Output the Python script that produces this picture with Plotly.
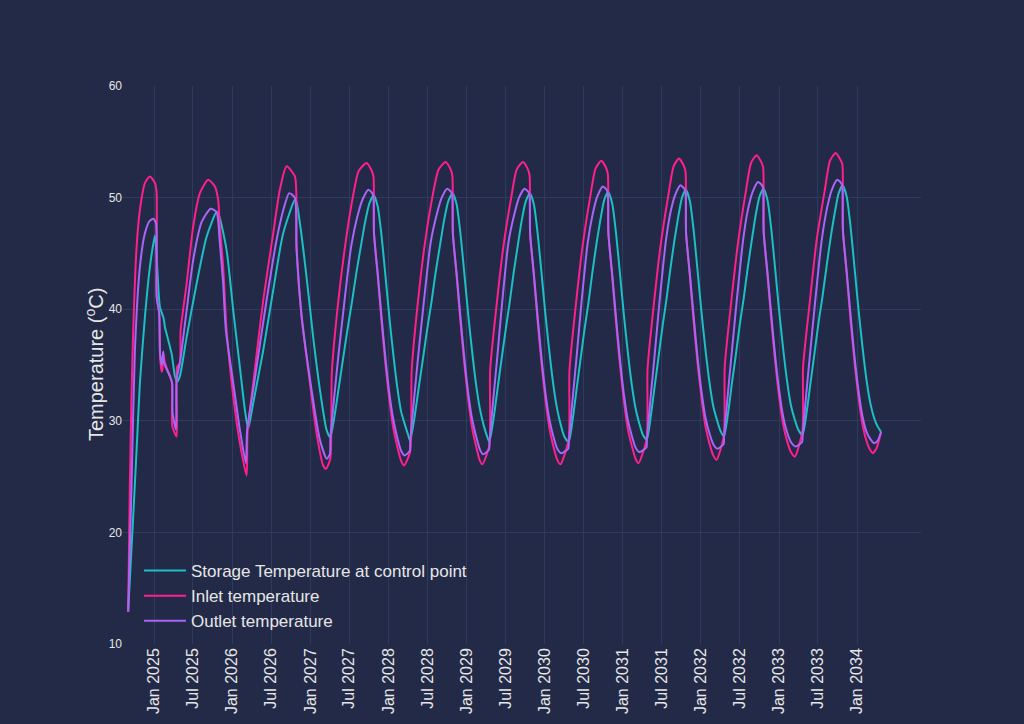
import plotly.graph_objects as go
import pandas as pd

# ---- data (decimal years, degrees C) ----
storage_t = [2024.667, 2024.731, 2024.775, 2024.817, 2024.881, 2024.945, 2025.009, 2025.038, 2025.073, 2025.12,
             2025.137, 2025.223, 2025.265, 2025.294, 2025.329, 2025.415, 2025.543, 2025.671, 2025.799, 2025.83,
             2025.927, 2026.012, 2026.097, 2026.161, 2026.204, 2026.268, 2026.396, 2026.524, 2026.652, 2026.81,
             2026.866, 2026.951, 2027.036, 2027.122, 2027.207, 2027.255,
             2027.311, 2027.367, 2027.422, 2027.478, 2027.534, 2027.59, 2027.646, 2027.701, 2027.757, 2027.813,
             2027.863, 2027.913, 2027.963, 2028.013, 2028.063, 2028.113, 2028.163, 2028.213, 2028.253, 2028.277,
             2028.331, 2028.386, 2028.44, 2028.495, 2028.549, 2028.603, 2028.658, 2028.712, 2028.766, 2028.821,
             2028.871, 2028.921, 2028.971, 2029.021, 2029.071, 2029.121, 2029.171, 2029.221, 2029.261, 2029.29,
             2029.342, 2029.394, 2029.446, 2029.498, 2029.55, 2029.602, 2029.654, 2029.706, 2029.758, 2029.81,
             2029.86, 2029.91, 2029.96, 2030.01, 2030.06, 2030.11, 2030.16, 2030.21, 2030.25, 2030.306,
             2030.357, 2030.407, 2030.458, 2030.509, 2030.56, 2030.61, 2030.661, 2030.712, 2030.762, 2030.813,
             2030.863, 2030.913, 2030.963, 2031.013, 2031.063, 2031.113, 2031.163, 2031.213, 2031.253, 2031.306,
             2031.356, 2031.406, 2031.457, 2031.507, 2031.557, 2031.607, 2031.657, 2031.708, 2031.758, 2031.808,
             2031.858, 2031.908, 2031.958, 2032.008, 2032.058, 2032.108, 2032.158, 2032.208, 2032.25, 2032.294,
             2032.345, 2032.395, 2032.446, 2032.496, 2032.547, 2032.598, 2032.648, 2032.699, 2032.749, 2032.80,
             2032.85, 2032.90, 2032.95, 2033.00, 2033.05, 2033.10, 2033.15, 2033.20, 2033.245, 2033.298,
             2033.35, 2033.401, 2033.453, 2033.504, 2033.556, 2033.608, 2033.659, 2033.711, 2033.762, 2033.814,
             2033.864, 2033.914, 2033.964, 2034.014, 2034.064, 2034.114, 2034.164, 2034.214, 2034.26, 2034.305]
storage_v = [12.9, 21.4, 27.4, 33.4, 39.3, 43.8, 46.6, 43.8, 40.2, 39.2,
             38.4, 36.0, 34.0, 33.5, 34.0, 37.5, 42.3, 46.5, 48.7, 48.4,
             45.3, 39.9, 34.8, 31.0, 29.3, 31.6, 36.3, 41.7, 46.8, 49.9,
             47.7, 42.9, 37.5, 32.8, 29.2, 28.5,
             30.5, 33.1, 35.7, 38.3, 40.7, 43.3, 45.6, 47.8, 49.5, 50.2,
             49.2, 46.5, 42.9, 39.2, 35.9, 33.0, 30.8, 29.6, 28.7, 28.2,
             30.2, 32.9, 35.5, 38.2, 40.6, 43.3, 45.7, 48.0, 49.7, 50.4,
             49.4, 46.7, 43.1, 39.4, 36.1, 33.2, 31.0, 29.5, 28.6, 28.1,
             30.1, 32.8, 35.5, 38.1, 40.6, 43.3, 45.7, 48.0, 49.7, 50.4,
             49.4, 46.7, 43.1, 39.4, 36.1, 33.2, 31.0, 29.5, 28.6, 28.1,
             30.1, 32.8, 35.5, 38.2, 40.6, 43.3, 45.8, 48.0, 49.8, 50.5,
             49.5, 46.8, 43.2, 39.5, 36.2, 33.3, 31.1, 29.7, 28.8, 28.3,
             30.3, 33.0, 35.7, 38.4, 40.8, 43.5, 46.0, 48.2, 50.0, 50.7,
             49.7, 47.0, 43.4, 39.7, 36.4, 33.5, 31.3, 30.0, 29.1, 28.6,
             30.6, 33.3, 35.9, 38.6, 41.0, 43.7, 46.1, 48.4, 50.1, 50.8,
             49.8, 47.1, 43.5, 39.8, 36.5, 33.6, 31.4, 30.1, 29.2, 28.7,
             30.7, 33.4, 36.1, 38.8, 41.2, 43.9, 46.4, 48.6, 50.4, 51.1,
             50.1, 47.4, 43.8, 40.1, 36.8, 33.9, 31.7, 30.3, 29.5, 29.0]

inlet_t = [2024.667, 2024.689, 2024.712, 2024.737, 2024.775, 2024.817, 2024.881, 2024.945, 2025.009, 2025.030,
           2025.033, 2025.064, 2025.073, 2025.095, 2025.105, 2025.115, 2025.137, 2025.201, 2025.226, 2025.232,
           2025.287, 2025.292, 2025.329, 2025.338, 2025.415, 2025.499, 2025.585, 2025.691, 2025.777, 2025.819,
           2025.84, 2025.883, 2025.927, 2026.012, 2026.097, 2026.183, 2026.195, 2026.268, 2026.396, 2026.524,
           2026.609, 2026.695, 2026.802, 2026.823, 2026.887, 2026.994, 2027.079, 2027.164, 2027.20,
           2027.255, 2027.275, 2027.35, 2027.44, 2027.54, 2027.62, 2027.72, 2027.78, 2027.808, 2027.815,
           2027.863, 2027.913, 2027.963, 2028.013, 2028.063, 2028.113, 2028.163, 2028.20,
           2028.277, 2028.297, 2028.37, 2028.46, 2028.56, 2028.64, 2028.73, 2028.79, 2028.816, 2028.823,
           2028.871, 2028.921, 2028.971, 2029.021, 2029.071, 2029.121, 2029.165, 2029.20,
           2029.29, 2029.30, 2029.38, 2029.47, 2029.57, 2029.64, 2029.72, 2029.78, 2029.805, 2029.812,
           2029.86, 2029.91, 2029.96, 2030.01, 2030.06, 2030.11, 2030.16, 2030.20,
           2030.306, 2030.316, 2030.395, 2030.485, 2030.585, 2030.65, 2030.723, 2030.783, 2030.808, 2030.815,
           2030.863, 2030.913, 2030.963, 2031.013, 2031.063, 2031.113, 2031.163, 2031.20,
           2031.306, 2031.316, 2031.395, 2031.485, 2031.585, 2031.65, 2031.718, 2031.778, 2031.803, 2031.81,
           2031.858, 2031.908, 2031.958, 2032.008, 2032.058, 2032.108, 2032.158, 2032.20,
           2032.294, 2032.304, 2032.385, 2032.475, 2032.575, 2032.64, 2032.71, 2032.77, 2032.795, 2032.802,
           2032.85, 2032.90, 2032.95, 2033.00, 2033.05, 2033.10, 2033.15, 2033.20,
           2033.298, 2033.306, 2033.385, 2033.48, 2033.585, 2033.65, 2033.724, 2033.784, 2033.809, 2033.816,
           2033.864, 2033.914, 2033.964, 2034.014, 2034.064, 2034.114, 2034.164, 2034.20, 2034.25, 2034.305]
inlet_v = [12.9, 24.4, 33.0, 39.3, 45.6, 48.9, 51.3, 51.9, 51.3, 50.5,
           41.1, 39.6, 36.0, 34.4, 34.6, 36.1, 35.2, 34.0, 33.4, 29.5,
           28.6, 34.8, 35.2, 38.1, 42.3, 47.4, 50.4, 51.6, 51.0, 49.8,
           47.5, 43.8, 38.1, 32.2, 28.0, 25.1, 28.9, 33.4, 40.8, 46.8,
           50.7, 52.8, 51.9, 45.5, 39.3, 33.4, 28.9, 26.0, 25.7,
           26.6, 34.3, 40.2, 45.4, 49.9, 52.4, 53.1, 52.5, 51.9, 46.8,
           43.0, 38.8, 35.0, 31.8, 29.3, 27.7, 26.4, 26.0,
           27.2, 34.5, 40.2, 45.6, 50.0, 52.5, 53.2, 52.6, 52.0, 46.8,
           43.0, 38.8, 35.0, 31.8, 29.3, 27.7, 26.5, 26.1,
           27.8, 34.5, 40.2, 45.6, 50.0, 52.5, 53.2, 52.6, 52.0, 46.8,
           43.0, 38.8, 35.0, 31.8, 29.3, 27.7, 26.5, 26.1,
           28.3, 34.5, 40.2, 45.7, 50.2, 52.6, 53.3, 52.7, 52.1, 46.8,
           43.0, 38.8, 35.0, 31.8, 29.3, 27.8, 26.6, 26.2,
           28.4, 34.6, 40.3, 45.8, 50.3, 52.8, 53.5, 52.9, 52.3, 46.8,
           43.0, 38.8, 35.1, 32.0, 29.5, 28.0, 26.9, 26.5,
           28.7, 34.8, 40.5, 46.0, 50.6, 53.1, 53.8, 53.2, 52.7, 46.9,
           43.1, 38.9, 35.2, 32.1, 29.7, 28.2, 27.2, 26.8,
           29.1, 34.8, 40.2, 46.2, 50.7, 53.3, 54.0, 53.4, 53.0, 47.1,
           43.2, 39.0, 35.3, 32.2, 29.8, 28.3, 27.4, 27.1, 27.6, 29.0]

outlet_t = [2024.667, 2024.711, 2024.753, 2024.817, 2024.881, 2024.94, 2024.987, 2025.022, 2025.031, 2025.064,
            2025.075, 2025.095, 2025.115, 2025.125, 2025.201, 2025.230, 2025.236, 2025.278, 2025.287, 2025.329,
            2025.415, 2025.499, 2025.607, 2025.722, 2025.799, 2025.84, 2025.883, 2025.918, 2026.012, 2026.097,
            2026.174, 2026.19, 2026.268, 2026.439, 2026.567, 2026.65, 2026.729, 2026.80, 2026.823, 2026.887,
            2027.015, 2027.122, 2027.21,
            2027.25, 2027.257, 2027.305, 2027.36, 2027.43, 2027.52, 2027.613, 2027.673, 2027.743, 2027.793,
            2027.808, 2027.815, 2027.863, 2027.913, 2027.963, 2028.013, 2028.063, 2028.113, 2028.163, 2028.21,
            2028.272, 2028.279, 2028.327, 2028.38, 2028.45, 2028.54, 2028.621, 2028.681, 2028.751, 2028.801,
            2028.816, 2028.823, 2028.871, 2028.921, 2028.971, 2029.021, 2029.071, 2029.121, 2029.171, 2029.21,
            2029.285, 2029.292, 2029.34, 2029.39, 2029.45, 2029.535, 2029.61, 2029.67, 2029.74, 2029.79,
            2029.805, 2029.812, 2029.86, 2029.91, 2029.96, 2030.01, 2030.06, 2030.11, 2030.16, 2030.21,
            2030.301, 2030.308, 2030.356, 2030.406, 2030.466, 2030.551, 2030.613, 2030.673, 2030.743, 2030.793,
            2030.808, 2030.815, 2030.863, 2030.913, 2030.963, 2031.013, 2031.063, 2031.113, 2031.163, 2031.21,
            2031.301, 2031.308, 2031.356, 2031.406, 2031.466, 2031.551, 2031.608, 2031.668, 2031.738, 2031.788,
            2031.803, 2031.81, 2031.858, 2031.908, 2031.958, 2032.008, 2032.058, 2032.108, 2032.158, 2032.21,
            2032.289, 2032.296, 2032.344, 2032.394, 2032.454, 2032.539, 2032.60, 2032.66, 2032.73, 2032.78,
            2032.795, 2032.802, 2032.85, 2032.90, 2032.95, 2033.00, 2033.05, 2033.10, 2033.15, 2033.21,
            2033.293, 2033.30, 2033.348, 2033.398, 2033.458, 2033.543, 2033.614, 2033.674, 2033.744, 2033.794,
            2033.809, 2033.816, 2033.864, 2033.914, 2033.964, 2034.014, 2034.064, 2034.114, 2034.164, 2034.215,
            2034.26, 2034.305]
outlet_v = [12.9, 24.4, 36.3, 43.8, 46.8, 47.9, 48.1, 47.7, 41.1, 39.6,
            36.0, 35.0, 36.2, 35.2, 34.0, 33.4, 30.7, 29.2, 33.7, 35.2,
            39.9, 44.4, 47.8, 49.0, 48.7, 46.0, 42.3, 38.1, 33.4, 29.2,
            26.2, 29.2, 32.8, 40.8, 46.2, 48.8, 50.4, 50.0, 45.5, 39.5,
            32.8, 28.3, 26.6,
            27.0, 28.5, 32.1, 35.9, 40.3, 45.5, 48.6, 49.9, 50.7, 50.4,
            50.1, 46.8, 43.2, 39.2, 35.5, 32.4, 30.1, 28.5, 27.3, 26.9,
            27.3, 28.2, 31.9, 35.8, 40.5, 46.0, 48.6, 50.0, 50.8, 50.5,
            50.2, 46.8, 43.2, 39.2, 35.5, 32.4, 30.1, 28.6, 27.4, 27.0,
            27.4, 28.1, 31.9, 35.6, 40.3, 46.0, 48.5, 50.0, 50.8, 50.5,
            50.2, 46.8, 43.2, 39.2, 35.5, 32.4, 30.1, 28.6, 27.5, 27.1,
            27.5, 28.1, 31.9, 35.6, 40.3, 46.0, 48.5, 50.1, 51.0, 50.7,
            50.4, 46.8, 43.2, 39.2, 35.5, 32.4, 30.1, 28.7, 27.6, 27.2,
            27.6, 28.3, 32.1, 35.8, 40.4, 46.1, 48.6, 50.2, 51.1, 50.8,
            50.5, 46.8, 43.2, 39.3, 35.6, 32.6, 30.3, 28.9, 27.9, 27.5,
            27.9, 28.6, 32.4, 36.1, 40.5, 46.2, 48.9, 50.5, 51.4, 51.1,
            50.8, 46.9, 43.3, 39.4, 35.7, 32.7, 30.4, 29.0, 28.1, 27.7,
            28.1, 28.7, 32.5, 36.2, 40.5, 46.1, 49.1, 50.7, 51.6, 51.3,
            51.0, 47.1, 43.4, 39.5, 35.8, 32.8, 30.5, 29.1, 28.4, 28.0,
            28.2, 29.0]

series_names = ["Storage Temperature at control point", "Inlet temperature", "Outlet temperature"]
y_title = "Temperature (<sup>o</sup>C)"
x_tick_vals = ["2025-01-01", "2025-07-01", "2026-01-01", "2026-07-01", "2027-01-01", "2027-07-01",
               "2028-01-01", "2028-07-01", "2029-01-01", "2029-07-01", "2030-01-01", "2030-07-01",
               "2031-01-01", "2031-07-01", "2032-01-01", "2032-07-01", "2033-01-01", "2033-07-01",
               "2034-01-01"]
x_range = ["2024-08-08", "2034-10-26"]
y_range = [10, 60]

BG = "#232a48"
GRID = "#2f3a5f"
COLORS = ["#1cbfc3", "#ff1f8e", "#a866f7"]


def to_dt(values):
    out = []
    for y in values:
        yr = int(y)
        start = pd.Timestamp(yr, 1, 1)
        end = pd.Timestamp(yr + 1, 1, 1)
        out.append(start + (y - yr) * (end - start))
    return out


fig = go.Figure()
for name, t, v, c in zip(series_names,
                         [storage_t, inlet_t, outlet_t],
                         [storage_v, inlet_v, outlet_v],
                         COLORS):
    fig.add_trace(go.Scatter(x=to_dt(t), y=v, mode="lines", name=name,
                             line=dict(color=c, width=2, shape="spline", smoothing=0.6)))

fig.update_layout(
    width=1024, height=724,
    paper_bgcolor=BG, plot_bgcolor=BG,
    margin=dict(l=123, r=103, t=86, b=80),
    font=dict(family="Arial, 'Liberation Sans', sans-serif", color="#e6e6e6"),
    legend=dict(x=0.02, y=0.009, xanchor="left", yanchor="bottom", itemwidth=42,
                bgcolor="rgba(0,0,0,0)", font=dict(size=17)),
    xaxis=dict(type="date", range=x_range, tickmode="array", tickvals=x_tick_vals,
               tickformat="%b %Y", tickangle=-90, tickfont=dict(size=16), gridcolor=GRID,
               showline=False, zeroline=False, automargin=False, ticks=""),
    yaxis=dict(range=y_range, dtick=10, tickfont=dict(size=12), gridcolor=GRID,
               zeroline=False, showline=False, automargin=False, ticks=""),
    annotations=[dict(text=y_title, xref="paper", yref="paper", x=-0.0363, y=0.5,
                      xanchor="center", yanchor="middle", textangle=-90, showarrow=False,
                      font=dict(size=20, color="#e6e6e6"))],
)

fig.write_html("out.html", config={"displayModeBar": False},
               post_script="document.body.style.margin='0';document.body.style.background='#232a48';")
